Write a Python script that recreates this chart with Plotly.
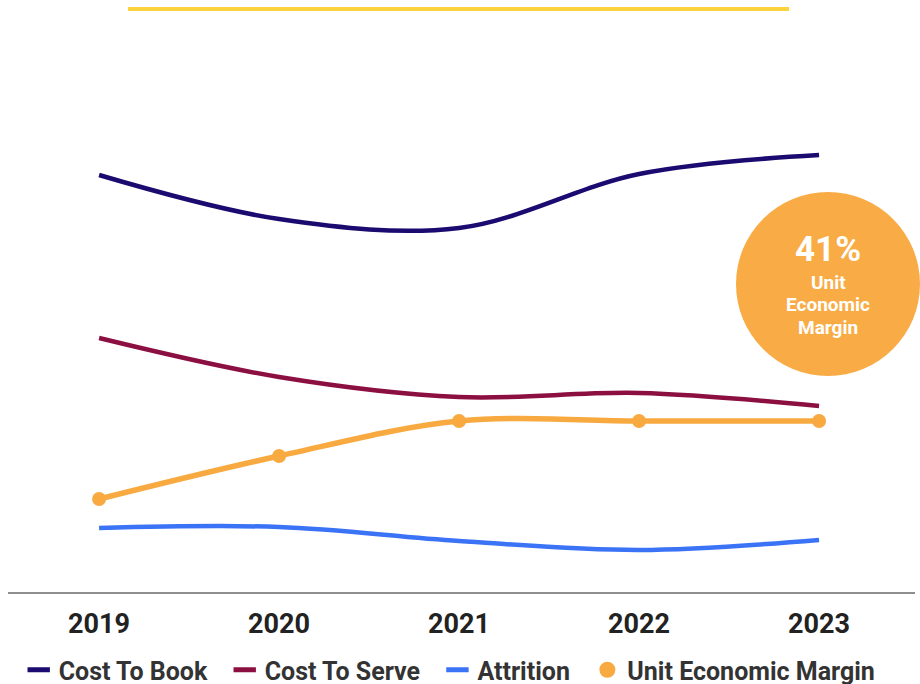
import plotly.graph_objects as go

years = ["2019", "2020", "2021", "2022", "2023"]
cost_to_book = [417, 373, 364, 418, 437]
cost_to_serve = [254, 215, 195, 199, 186]
attrition = [64, 65, 51, 42, 52]
unit_economic_margin = [93, 136, 171, 171, 171]
series_names = ["Cost To Book", "Cost To Serve", "Attrition", "Unit Economic Margin"]

C_BOOK = "#1B0A6F"
C_SERVE = "#8C0F42"
C_ATTR = "#3B73F6"
C_UEM = "#F8AA40"

xi = list(range(len(years)))
PAD = "\u00a0\u00a0"

fig = go.Figure()
fig.add_trace(go.Scatter(x=xi, y=cost_to_book, mode="lines", line=dict(color=C_BOOK, width=4.5, shape="spline"),
                         showlegend=False, hoverinfo="skip"))
fig.add_trace(go.Scatter(x=xi, y=cost_to_serve, mode="lines", line=dict(color=C_SERVE, width=4.5, shape="spline"),
                         showlegend=False, hoverinfo="skip"))
fig.add_trace(go.Scatter(x=xi, y=attrition, mode="lines", line=dict(color=C_ATTR, width=4.5, shape="spline"),
                         showlegend=False, hoverinfo="skip"))
fig.add_trace(go.Scatter(x=xi, y=unit_economic_margin, mode="lines+markers",
                         line=dict(color=C_UEM, width=5.5, shape="spline"),
                         marker=dict(color=C_UEM, size=14), showlegend=False, hoverinfo="skip"))

# legend entries
for name, col in zip(series_names[:3], [C_BOOK, C_SERVE, C_ATTR]):
    fig.add_trace(go.Scatter(x=[None], y=[None], mode="markers", name=name + PAD,
                             marker=dict(symbol="line-ew", size=16, line=dict(color=col, width=5), color=col)))
fig.add_trace(go.Scatter(x=[None], y=[None], mode="markers", name=series_names[3],
                         marker=dict(symbol="circle", size=18, color=C_UEM)))

# callout circle (paper-referenced so it is not clipped to the plot area)
PX, PY = (828 - 8) / 907, (592 - 284) / 552
fig.add_shape(type="circle", xref="paper", yref="paper", xsizemode="pixel", ysizemode="pixel",
              xanchor=PX, yanchor=PY, x0=-92, x1=92, y0=-92, y1=92,
              fillcolor="#F9AC45", line=dict(width=0), layer="above")
fig.add_annotation(x=PX, y=PY, xref="paper", yref="paper", showarrow=False, yshift=35,
                   xanchor="center", yanchor="middle",
                   text="<b>41%</b>", font=dict(family="Roboto", size=35, color="white"))
for txt, ys in [("Unit", 2), ("Economic", -20), ("Margin", -43)]:
    fig.add_annotation(x=PX, y=PY, xref="paper", yref="paper", showarrow=False, yshift=ys,
                       xanchor="center", yanchor="middle",
                       text="<b>%s</b>" % txt, font=dict(family="Roboto", size=19, color="white"))

# top yellow rule
fig.add_shape(type="line", xref="paper", yref="paper",
              x0=(128 - 8) / 907, x1=(789 - 8) / 907, y0=(592 - 9) / 552, y1=(592 - 9) / 552,
              line=dict(color="#FDD23B", width=4))

fig.update_layout(
    width=920, height=684,
    margin=dict(l=8, r=5, t=40, b=92),
    paper_bgcolor="white", plot_bgcolor="white",
    font=dict(family="Roboto", color="#222222"),
    legend=dict(orientation="h", x=0.487, xanchor="center",
                yref="container", y=1 - 670 / 684, yanchor="middle",
                font=dict(family="Roboto", size=25, color="#333333", weight="bold"),
                itemwidth=30, tracegroupgap=0),
)
fig.update_xaxes(
    range=[-0.506, 4.533], tickmode="array", tickvals=xi, ticktext=years,
    showgrid=False, zeroline=False, showline=True, linecolor="#8E8E8E", linewidth=2,
    ticks="outside", ticklen=7, tickcolor="rgba(0,0,0,0)",
    tickfont=dict(family="Roboto", size=27, color="#222222", weight="bold"),
)
fig.update_yaxes(range=[0, 552], visible=False, showgrid=False, zeroline=False)

fig.write_html("out.html", config={"displayModeBar": False},
               post_script="document.body.style.margin='0';document.body.style.overflow='hidden';")
